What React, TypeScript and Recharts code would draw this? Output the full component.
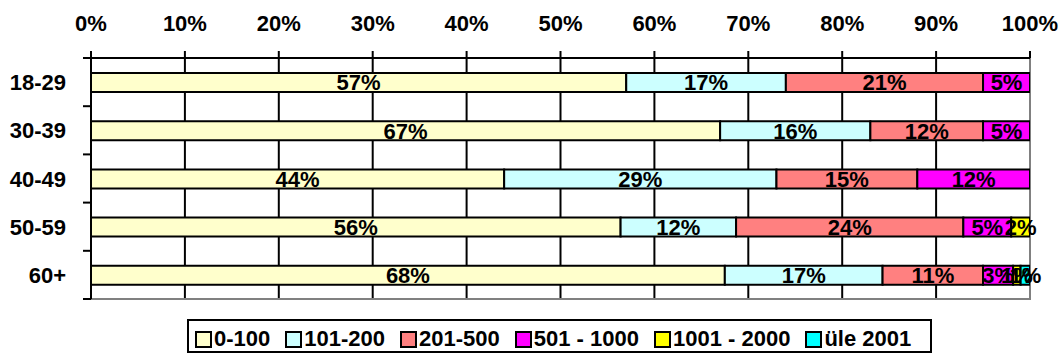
import React from 'react';
import { BarChart, Bar, XAxis, YAxis, CartesianGrid, LabelList, Legend, ReferenceArea } from 'recharts';

const categories = ['18-29', '30-39', '40-49', '50-59', '60+'];
const seriesNames = ['0-100', '101-200', '201-500', '501 - 1000', '1001 - 2000', 'üle 2001'];
const seriesKeys = ['s0', 's1', 's2', 's3', 's4', 's5'];
const s0 = [57, 67, 44, 56.4, 67.5];
const s1 = [17, 16, 29, 12.3, 16.8];
const s2 = [21, 12, 15, 24.2, 10.7];
const s3 = [5, 5, 12, 5.1, 3.2];
const s4 = [0, 0, 0, 2.0, 0.8];
const s5 = [0, 0, 0, 0, 1.0];
const seriesValues = [s0, s1, s2, s3, s4, s5];
const xTicks = [0, 10, 20, 30, 40, 50, 60, 70, 80, 90, 100];
const colors = ['#FFFFCC', '#CCFFFF', '#FF8080', '#FF00FF', '#FFFF00', '#00FFFF'];

const data = categories.map((c, i) => {
  const row: any = { name: c };
  seriesKeys.forEach((k, j) => {
    row[k] = seriesValues[j][i];
  });
  return row;
});

const W = 1062;
const H = 356;
const TOP = 58;
const BOTTOM = 57;
const LEGEND_H = 34;
const BAND = (H - TOP - BOTTOM) / categories.length;
const FONT = '"Liberation Sans", Arial, sans-serif';

const XTick = (props: any) => {
  const { x, payload } = props;
  return (
    <text x={x} y={31} textAnchor="middle" fill="#000" fontSize={22} fontWeight="bold" fontFamily={FONT}>
      {payload.value + '%'}
    </text>
  );
};

const YTick = (props: any) => {
  const { y, payload, index } = props;
  const half = BAND / 2;
  return (
    <g>
      <text x={66} y={y} dy={8} textAnchor="end" fill="#000" fontSize={22} fontWeight="bold" fontFamily={FONT}>
        {payload.value}
      </text>
      <line x1={83} x2={91} y1={y - half} y2={y - half} stroke="#000" strokeWidth={2} />
      {index === categories.length - 1 && (
        <line x1={83} x2={91} y1={y + half} y2={y + half} stroke="#000" strokeWidth={2} />
      )}
    </g>
  );
};

const LegendBox = () => (
  <div
    style={{
      boxSizing: 'border-box',
      height: LEGEND_H,
      border: '2px solid #000',
      display: 'flex',
      alignItems: 'center',
      paddingLeft: 6,
      paddingTop: 6,
      fontFamily: FONT,
      fontWeight: 'bold',
      fontSize: 22,
      color: '#000',
      background: '#fff',
      whiteSpace: 'nowrap',
    }}
  >
    {seriesNames.map((n, i) => (
      <span key={n} style={{ display: 'flex', alignItems: 'center', marginRight: 15 }}>
        <span
          style={{
            display: 'inline-block',
            width: 13,
            height: 13,
            border: '2px solid #000',
            background: colors[i],
            marginRight: 2,
          }}
        />
        <span>{n}</span>
      </span>
    ))}
  </div>
);

const fmt = (v: any) => (v ? Math.round(Number(v)) + '%' : '');

export default function App() {
  return (
    <div style={{ position: 'absolute', left: 0, top: 0, width: W, height: H, background: '#fff' }}>
      <BarChart
        width={W}
        height={H}
        data={data}
        layout="vertical"
        margin={{ top: 0, right: 32, bottom: BOTTOM - LEGEND_H, left: 0 }}
        style={{ fontFamily: FONT }}
      >
        <CartesianGrid vertical horizontal={false} stroke="#000" strokeWidth={2} />
        <ReferenceArea x1={0} x2={100} fill="none" stroke="#808080" strokeWidth={2} />
        <XAxis
          type="number"
          orientation="top"
          domain={[0, 100]}
          ticks={xTicks}
          interval={0}
          allowDataOverflow
          height={TOP}
          tickSize={7}
          axisLine={{ stroke: '#000', strokeWidth: 2 }}
          tickLine={{ stroke: '#000', strokeWidth: 2 }}
          tick={<XTick />}
        />
        <YAxis
          type="category"
          dataKey="name"
          width={91}
          interval={0}
          axisLine={{ stroke: '#000', strokeWidth: 2 }}
          tickLine={false}
          tick={<YTick />}
        />
        {seriesKeys.map((k, i) => (
          <Bar
            key={k}
            dataKey={k}
            name={seriesNames[i]}
            stackId="a"
            fill={colors[i]}
            stroke="#000"
            strokeWidth={2}
            barSize={19}
            isAnimationActive={false}
          >
            <LabelList
              dataKey={k}
              position="center"
              formatter={fmt}
              fill="#000"
              fontSize={22}
              fontWeight="bold"
              fontFamily={FONT}
            />
          </Bar>
        ))}
        <Legend
          verticalAlign="bottom"
          content={<LegendBox />}
          wrapperStyle={{ position: 'absolute', left: 187, top: 319, bottom: 'auto', width: 745, height: LEGEND_H }}
        />
      </BarChart>
    </div>
  );
}
